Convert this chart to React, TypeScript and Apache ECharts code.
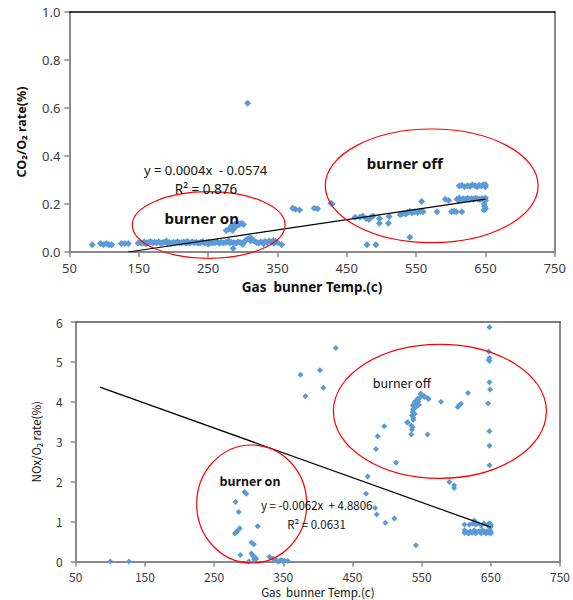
import React, { useEffect, useRef } from "react";
import * as echarts from "echarts";

// ---------- DATA ----------
const xTickMin = 50;
const xTickMax = 750;
const xTickStep = 100;

// CO2/O2 rate (%) vs gas burner temperature
const co2Low: number[][] = [
  [83, 0.03], [95, 0.035], [99, 0.03], [103, 0.035], [107, 0.03], [111, 0.03],
  [125, 0.035], [130, 0.035], [135, 0.035],
];
const co2Band: number[][] = [
  [149, 0.038], [152, 0.04], [155, 0.036], [158, 0.042], [161, 0.038], [164, 0.04],
  [167, 0.044], [170, 0.037], [173, 0.041], [176, 0.039], [179, 0.043], [182, 0.036],
  [185, 0.04], [188, 0.042], [191, 0.038], [194, 0.04], [197, 0.035], [200, 0.041],
  [203, 0.039], [206, 0.043], [209, 0.037], [212, 0.04], [215, 0.042], [218, 0.036],
  [221, 0.04], [224, 0.038], [227, 0.043], [230, 0.039], [233, 0.041], [236, 0.036],
  [239, 0.04], [242, 0.044], [245, 0.038], [248, 0.04], [251, 0.042], [254, 0.037],
  [257, 0.04], [260, 0.039], [263, 0.043], [266, 0.036], [269, 0.041], [272, 0.038],
  [275, 0.04], [278, 0.044], [281, 0.037], [284, 0.041], [287, 0.039], [290, 0.036],
  [293, 0.042], [296, 0.04], [299, 0.038], [302, 0.043], [305, 0.05], [308, 0.056],
  [311, 0.058], [314, 0.052], [317, 0.045], [320, 0.04], [323, 0.037], [326, 0.042],
  [329, 0.039], [332, 0.044], [335, 0.04], [338, 0.046], [341, 0.042], [344, 0.048],
  [347, 0.044], [350, 0.04], [160, 0.033], [190, 0.046], [220, 0.045], [250, 0.033],
  [280, 0.046], [300, 0.032], [330, 0.034], [345, 0.036], [310, 0.05], [312, 0.047],
  [356, 0.03], [286, 0.015],
];
const co2BurnerOnHigh: number[][] = [
  [276, 0.09], [280, 0.095], [282, 0.1], [284, 0.11], [286, 0.095], [288, 0.115],
  [290, 0.105], [292, 0.12], [295, 0.115], [298, 0.12], [301, 0.115], [285, 0.09],
  [307, 0.62],
];
const co2Mid: number[][] = [
  [372, 0.182], [376, 0.178], [382, 0.175], [403, 0.182], [408, 0.18], [427, 0.203],
  [429, 0.2], [462, 0.145], [469, 0.145], [473, 0.15], [478, 0.14], [482, 0.135],
  [485, 0.145], [488, 0.15], [497, 0.14], [511, 0.148], [497, 0.12], [510, 0.12],
  [479, 0.03], [492, 0.03],
];
const co2High: number[][] = [
  [527, 0.155], [531, 0.16], [535, 0.158], [538, 0.165], [541, 0.17], [544, 0.163],
  [548, 0.168], [552, 0.165], [556, 0.17], [560, 0.168], [541, 0.061], [558, 0.21],
  [580, 0.168], [592, 0.22], [597, 0.215], [601, 0.168], [605, 0.17], [608, 0.168],
  [616, 0.168],
  [609, 0.22], [612, 0.225], [615, 0.218], [618, 0.222], [621, 0.22], [624, 0.224],
  [627, 0.219], [630, 0.222], [633, 0.22], [636, 0.224], [639, 0.221], [642, 0.219],
  [645, 0.223], [648, 0.22], [650, 0.225], [611, 0.215], [650, 0.215],
  [612, 0.275], [616, 0.278], [620, 0.272], [624, 0.276], [628, 0.274], [631, 0.28],
  [635, 0.276], [638, 0.272], [641, 0.278], [644, 0.275], [647, 0.28], [650, 0.272],
  [650, 0.28], [648, 0.2], [649, 0.19], [650, 0.18], [648, 0.175],
];
const co2Trend: number[][] = [[135, 0], [650, 0.22]];

// NOx/O2 rate (%) vs gas burner temperature
const noxBurnerOn: number[][] = [
  [100, 0], [127, 0],
  [281, 1.49], [285.6, 1.24], [294, 1.74], [296.6, 1.7], [313, 0.88], [280, 0.7],
  [282, 0.74], [284.6, 0.78], [287, 0.83], [304, 0.475], [307.6, 0.43], [288, 0.16],
  [304, 0.2], [306, 0.14], [308.6, 0.12], [300, 0], [308, 0.05], [311, 0.07],
  [330, 0.12], [335, 0.075], [340, 0.03], [344.7, 0.01], [349.5, 0.01], [356.7, 0.01],
  [338, 0.05], [342, 0], [347, 0.04], [352, 0.02],
];
const noxMid: number[][] = [
  [375, 4.68], [382, 4.14], [403, 4.79], [408, 4.35], [426, 5.35], [469.7, 1.7],
  [472, 2.13], [482.7, 1.34], [485, 1.18], [484, 2.82], [486.5, 3.14], [496, 3.39],
  [497.6, 0.97], [510.6, 1.075], [513, 2.475], [529, 3.48], [535, 3.18], [541.8, 0.41],
  [558.6, 3.18],
];
const noxBurnerOff: number[][] = [
  [536, 3.66], [537, 3.74], [539, 3.83], [537, 3.91], [540, 3.99], [542, 4.03],
  [544, 4.08], [547, 4.09], [549, 4.175], [554, 4.12], [559, 4.09], [537, 3.37],
  [535, 3.41], [530, 3.49], [538, 3.6], [541, 3.95], [543, 3.88], [545, 4.0],
  [538, 3.8], [540, 3.7], [546, 3.93], [549, 4.2], [554, 4.14], [560, 4.07],
  [536, 3.3], [538, 3.55],
  [578, 4.0], [602, 3.87], [604, 3.9], [607, 3.95], [617, 4.22], [590, 1.99],
  [597, 1.91], [597, 1.84],
];
const nox650: number[][] = [
  [648, 5.87], [647, 5.26], [648, 5.1], [647, 5.05], [648, 5.02], [648, 4.49],
  [649, 4.31], [646, 3.96], [648, 3.26], [648, 2.9], [648, 2.41],
  [612, 0.72], [612, 0.78], [615, 0.74], [618, 0.7], [620, 0.76], [623, 0.72],
  [626, 0.78], [628, 0.7], [630, 0.74], [633, 0.76], [636, 0.71], [638, 0.78],
  [640, 0.73], [643, 0.7], [645, 0.76], [647, 0.72], [649, 0.78], [650, 0.7],
  [650, 0.74], [617, 0.72], [635, 0.75], [641, 0.75], [624, 0.74],
  [612, 0.93], [624, 0.95], [626, 1.03], [631, 0.95], [640, 0.95], [645, 0.92],
  [648, 0.96], [650, 0.93], [650, 0.88], [649, 0.85], [619, 0.92], [636, 0.9],
  [628, 0.93],
];
const noxTrend: number[][] = [[85, 4.37], [650, 0.86]];

const xTitle = "Gas  bunner Temp.(c)";
const co2Title = "CO₂/O₂ rate(%)";
const noxTitle = "NOx/O₂ rate(%)";
const co2Eq = "y = 0.0004x  - 0.0574";
const co2R2 = "R² = 0.876";
const noxEq = "y = -0.0062x  + 4.8806";
const noxR2 = "R² = 0.0631";

// ---------- STYLE ----------
const BLUE = "#5B9BD5";
const RED = "#FF0000";
const AXIS_GRAY = "#8A8A8A";
const LABEL = "#3a3a3a";
const FONT = "'Noto Sans', 'Noto Sans CJK KR', sans-serif";
const FONT2 = "'Noto Sans CJK KR', 'Noto Sans', sans-serif";

export default function App() {
  const ref = useRef<HTMLDivElement>(null);

  useEffect(() => {
    if (!ref.current) return;
    const chart = echarts.init(ref.current, undefined, { renderer: "svg" });

    const mkX = (grid: number, fs: number, lfs: number, family: string, bold: boolean, gap: number, lm: number) => ({
      type: "value",
      gridIndex: grid,
      min: xTickMin,
      max: xTickMax,
      interval: xTickStep,
      name: xTitle,
      nameLocation: "middle",
      nameGap: gap,
      nameTextStyle: { fontSize: fs, fontFamily: family, fontWeight: bold ? "bold" : "normal", color: "#111", lineHeight: fs + 2 },
      axisLine: { show: true, onZero: false, lineStyle: { color: AXIS_GRAY, width: 2 } },
      axisTick: { show: true, inside: false, length: 5, lineStyle: { color: AXIS_GRAY, width: 1.5 } },
      axisLabel: { fontSize: lfs, fontFamily: family, color: LABEL, margin: lm },
      splitLine: { show: false },
    });

    const borderX = (grid: number, color: string) => ({
      type: "value", gridIndex: grid, position: "top", min: xTickMin, max: xTickMax,
      axisLine: { show: true, onZero: false, lineStyle: { color, width: 1.5 } },
      axisTick: { show: false }, axisLabel: { show: false }, splitLine: { show: false },
    });
    const borderY = (grid: number, min: number, max: number, color: string) => ({
      type: "value", gridIndex: grid, position: "right", min, max,
      axisLine: { show: true, onZero: false, lineStyle: { color, width: 2 } },
      axisTick: { show: false }, axisLabel: { show: false }, splitLine: { show: false },
    });

    const scatter = (data: number[][], xi: number, yi: number, size: number) => ({
      type: "scatter",
      xAxisIndex: xi,
      yAxisIndex: yi,
      data,
      symbol: "diamond",
      symbolSize: size,
      itemStyle: { color: BLUE, opacity: 1 },
      z: 3,
    });

    const trend = (data: number[][], xi: number, yi: number) => ({
      type: "line",
      xAxisIndex: xi,
      yAxisIndex: yi,
      data,
      symbol: "none",
      lineStyle: { color: "#000", width: 1.2 },
      z: 4,
    });

    const ellipse = (cx: number, cy: number, rx: number, ry: number) => ({
      type: "ellipse",
      shape: { cx, cy, rx, ry },
      style: { fill: "none", stroke: RED, lineWidth: 1.2 },
      z: 100,
    });
    const text = (x: number, y: number, t: string, fs: number, bold: boolean, family = FONT) => ({
      type: "text",
      x,
      y,
      style: {
        text: t,
        fontSize: fs,
        fontWeight: bold ? "bold" : "normal",
        fontFamily: family,
        fill: "#111",
        align: "center",
        verticalAlign: "middle",
      },
      z: 101,
    });

    chart.setOption({
      animation: false,
      backgroundColor: "#fff",
      grid: [
        { left: 69.4, top: 12, width: 485.4, height: 240 },
        { left: 75.7, top: 322, width: 485.3, height: 241 },
      ],
      xAxis: [
        mkX(0, 13.5, 13, FONT, true, 27, 9),
        mkX(1, 11.5, 12, FONT2, false, 24, 9),
        borderX(0, "#000"),
        borderX(1, "#555"),
      ],
      yAxis: [
        {
          type: "value", gridIndex: 0, min: 0, max: 1, interval: 0.2,
          name: co2Title, nameLocation: "middle", nameGap: 42, nameRotate: 90,
          nameTextStyle: { fontSize: 12.5, fontFamily: FONT, fontWeight: "bold", color: "#111" },
          axisLine: { show: true, onZero: false, lineStyle: { color: AXIS_GRAY, width: 2 } },
          axisTick: { show: true, length: 5, lineStyle: { color: AXIS_GRAY, width: 1.5 } },
          axisLabel: { fontSize: 13, fontFamily: FONT, color: LABEL, margin: 9, formatter: (v: number) => v.toFixed(1) },
          splitLine: { show: false },
        },
        {
          type: "value", gridIndex: 1, min: 0, max: 6, interval: 1,
          name: noxTitle, nameLocation: "middle", nameGap: 34, nameRotate: 90,
          nameTextStyle: { fontSize: 11.5, fontFamily: FONT2, fontWeight: "normal", color: "#111" },
          axisLine: { show: true, onZero: false, lineStyle: { color: AXIS_GRAY, width: 2 } },
          axisTick: { show: true, length: 5, lineStyle: { color: AXIS_GRAY, width: 1.5 } },
          axisLabel: { fontSize: 12, fontFamily: FONT2, color: LABEL, margin: 13 },
          splitLine: { show: false },
        },
        borderY(0, 0, 1, AXIS_GRAY),
        borderY(1, 0, 6, AXIS_GRAY),
      ],
      series: [
        scatter(co2Low, 0, 0, 7),
        scatter(co2Band, 0, 0, 7),
        scatter(co2BurnerOnHigh, 0, 0, 7),
        scatter(co2Mid, 0, 0, 7),
        scatter(co2High, 0, 0, 7),
        trend(co2Trend, 0, 0),
        scatter(noxBurnerOn, 1, 1, 6),
        scatter(noxMid, 1, 1, 6),
        scatter(noxBurnerOff, 1, 1, 6),
        scatter(nox650, 1, 1, 6),
        trend(noxTrend, 1, 1),
      ],
      graphic: [
        ellipse(208.7, 225, 76.4, 33.3),
        ellipse(431.7, 185.8, 106.4, 56.8),
        ellipse(251.7, 504, 55, 59),
        ellipse(439.9, 411.3, 106.5, 67),
        text(201.7, 218, "burner on", 15, true),
        text(404.8, 163, "burner off", 15, true),
        text(205.6, 170, co2Eq, 13, false),
        text(206, 189, co2R2, 13.5, false),
        text(401.7, 382, "burner off", 12.5, false, FONT2),
        text(250, 480, "burner on", 12.5, true, FONT2),
        text(316.7, 505, noxEq, 11.5, false, FONT2),
        text(316.5, 523.5, noxR2, 11.5, false, FONT2),
      ],
    });

    return () => chart.dispose();
  }, []);

  return (
    <div
      ref={ref}
      style={{ position: "absolute", left: 0, top: 0, width: 573, height: 600, background: "#fff" }}
    />
  );
}
